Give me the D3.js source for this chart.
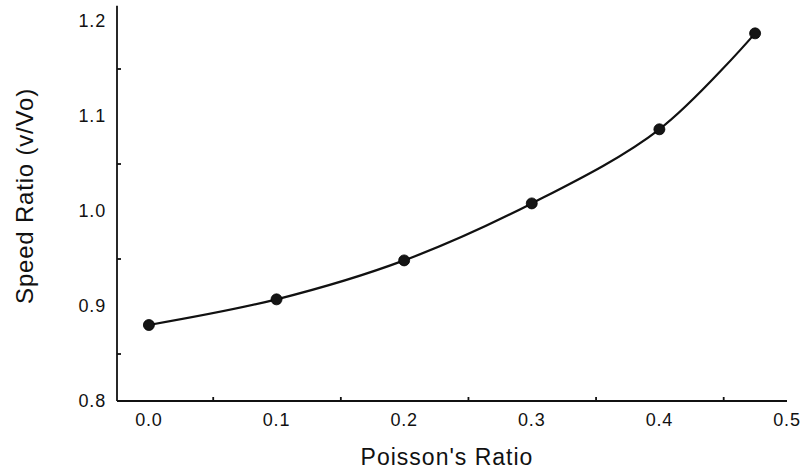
<!DOCTYPE html>
<html>
<head>
<meta charset="utf-8">
<script src="https://cdn.jsdelivr.net/npm/d3@7"></script>
<style>
  body { margin: 0; background: #fff; }
  text { font-family: "Liberation Sans", Arial, sans-serif; fill: #111; }
</style>
</head>
<body>
<div id="chart"></div>
<script>
// data
var poisson = [0.0, 0.1, 0.2, 0.3, 0.4, 0.475];
var speedRatio = [0.880, 0.907, 0.948, 1.008, 1.086, 1.187];
var xTicks = [0.0, 0.1, 0.2, 0.3, 0.4, 0.5];
var yTicks = [0.8, 0.9, 1.0, 1.1, 1.2];
var xMinor = [0.05, 0.15, 0.25, 0.35, 0.45];
var yMinor = [0.85, 0.95, 1.05, 1.15];

var width = 806, height = 474;

var svg = d3.select("#chart")
  .append("svg")
  .attr("width", width)
  .attr("height", height);

var x = d3.scaleLinear().domain([-0.025, 0.5]).range([117, 787]);
var y = d3.scaleLinear().domain([0.8, 1.2]).range([401, 21]);

var ink = "#111";

// x axis, ticks pointing inward
var gx = svg.append("g").attr("transform", "translate(0," + y(0.8) + ")");
gx.call(d3.axisTop(x).tickValues(xTicks).tickSize(7).tickFormat(""))
  .call(g => g.select(".domain").remove());
gx.call(d3.axisTop(x).tickValues(xMinor).tickSize(4).tickFormat(""))
  .call(g => g.select(".domain").remove());
gx.selectAll("line").attr("stroke", ink).attr("stroke-width", 1.8);
gx.append("line")
  .attr("x1", x(-0.025)).attr("x2", x(0.5))
  .attr("stroke", ink).attr("stroke-width", 1.8);

svg.selectAll(".xlab")
  .data(xTicks)
  .join("text")
  .attr("class", "xlab")
  .attr("x", d => x(d))
  .attr("y", 426)
  .attr("text-anchor", "middle")
  .style("font-size", "18px")
  .style("letter-spacing", "0.8px")
  .text(d => d3.format(".1f")(d));

// y axis, ticks pointing inward
var gy = svg.append("g").attr("transform", "translate(" + x(-0.025) + ",0)");
gy.call(d3.axisRight(y).tickValues(yTicks).tickSize(8).tickFormat(""))
  .call(g => g.select(".domain").remove());
gy.call(d3.axisRight(y).tickValues(yMinor).tickSize(4).tickFormat(""))
  .call(g => g.select(".domain").remove());
gy.selectAll("line").attr("stroke", ink).attr("stroke-width", 1.8);
gy.append("line")
  .attr("y1", y(0.8)).attr("y2", y(1.216))
  .attr("stroke", ink).attr("stroke-width", 1.8);

svg.selectAll(".ylab")
  .data(yTicks)
  .join("text")
  .attr("class", "ylab")
  .attr("x", 106)
  .attr("y", d => y(d))
  .attr("dy", "0.36em")
  .attr("text-anchor", "end")
  .style("font-size", "18px")
  .style("letter-spacing", "0.8px")
  .text(d => d3.format(".1f")(d));

// axis titles
svg.append("text")
  .attr("x", 447)
  .attr("y", 465)
  .attr("text-anchor", "middle")
  .style("font-size", "23px")
  .style("letter-spacing", "1px")
  .text("Poisson's Ratio");

svg.append("text")
  .attr("transform", "translate(33,196) rotate(-90)")
  .attr("text-anchor", "middle")
  .style("font-size", "24px")
  .style("letter-spacing", "0.8px")
  .text("Speed Ratio (v/Vo)");

// smooth curve through the points
var pts = poisson.map((p, i) => [p, speedRatio[i]]);

var line = d3.line()
  .x(d => x(d[0]))
  .y(d => y(d[1]))
  .curve(d3.curveCatmullRom.alpha(0.5));

svg.append("path")
  .datum(pts)
  .attr("d", line)
  .attr("fill", "none")
  .attr("stroke", ink)
  .attr("stroke-width", 2.2);

svg.selectAll(".pt")
  .data(pts)
  .join("circle")
  .attr("class", "pt")
  .attr("cx", d => x(d[0]))
  .attr("cy", d => y(d[1]))
  .attr("r", 5.5)
  .attr("fill", "#151515")
  .attr("stroke", "#000")
  .attr("stroke-width", 0.8);
</script>
</body>
</html>
